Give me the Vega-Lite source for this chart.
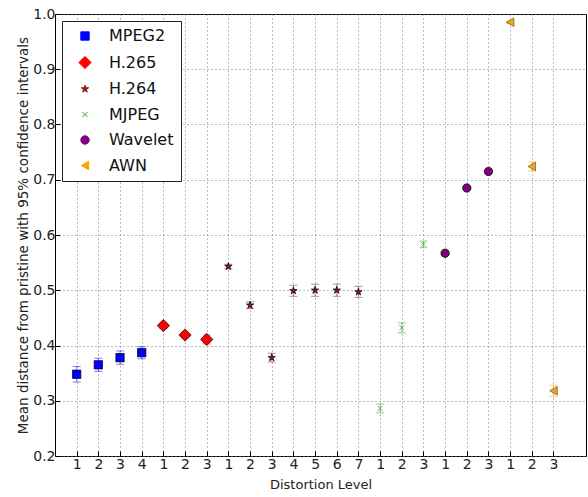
{
  "$schema": "https://vega.github.io/schema/vega-lite/v6.json",
  "width": 531,
  "height": 442,
  "autosize": "none",
  "padding": {"left": 55, "top": 14, "right": 2, "bottom": 41},
  "config": {
    "font": "DejaVu Sans",
    "view": {"stroke": "black", "strokeWidth": 1},
    "axis": {
      "gridColor": "#777",
      "gridDash": [1, 3],
      "gridOpacity": 1,
      "domain": false,
      "tickColor": "black",
      "labelColor": "#222",
      "titleColor": "#222",
      "titleFontWeight": "normal",
      "labelFontSize": 14,
      "titleFontSize": 13
    }
  },
  "data": {
    "values": [
      {"series": "MPEG2", "idx": 1, "y": 0.348, "lo": 0.334, "hi": 0.362},
      {"series": "MPEG2", "idx": 2, "y": 0.365, "lo": 0.353, "hi": 0.377},
      {"series": "MPEG2", "idx": 3, "y": 0.378, "lo": 0.366, "hi": 0.390},
      {"series": "MPEG2", "idx": 4, "y": 0.387, "lo": 0.376, "hi": 0.398},
      {"series": "H.265", "idx": 5, "y": 0.436, "lo": 0.431, "hi": 0.441},
      {"series": "H.265", "idx": 6, "y": 0.419, "lo": 0.414, "hi": 0.424},
      {"series": "H.265", "idx": 7, "y": 0.411, "lo": 0.403, "hi": 0.419},
      {"series": "H.264", "idx": 8, "y": 0.543, "lo": 0.539, "hi": 0.547},
      {"series": "H.264", "idx": 9, "y": 0.473, "lo": 0.467, "hi": 0.479},
      {"series": "H.264", "idx": 10, "y": 0.378, "lo": 0.370, "hi": 0.386},
      {"series": "H.264", "idx": 11, "y": 0.499, "lo": 0.489, "hi": 0.509},
      {"series": "H.264", "idx": 12, "y": 0.500, "lo": 0.489, "hi": 0.511},
      {"series": "H.264", "idx": 13, "y": 0.500, "lo": 0.489, "hi": 0.511},
      {"series": "H.264", "idx": 14, "y": 0.497, "lo": 0.487, "hi": 0.507},
      {"series": "MJPEG", "idx": 15, "y": 0.286, "lo": 0.278, "hi": 0.294},
      {"series": "MJPEG", "idx": 16, "y": 0.432, "lo": 0.423, "hi": 0.441},
      {"series": "MJPEG", "idx": 17, "y": 0.583, "lo": 0.577, "hi": 0.589},
      {"series": "Wavelet", "idx": 18, "y": 0.567, "lo": 0.564, "hi": 0.570},
      {"series": "Wavelet", "idx": 19, "y": 0.685, "lo": 0.683, "hi": 0.687},
      {"series": "Wavelet", "idx": 20, "y": 0.715, "lo": 0.713, "hi": 0.717},
      {"series": "AWN", "idx": 21, "y": 0.985, "lo": 0.983, "hi": 0.987},
      {"series": "AWN", "idx": 22, "y": 0.724, "lo": 0.716, "hi": 0.732},
      {"series": "AWN", "idx": 23, "y": 0.318, "lo": 0.308, "hi": 0.328}
    ]
  },
  "encoding": {
    "x": {
      "field": "idx",
      "type": "quantitative",
      "scale": {"domain": [0, 24.5], "nice": false, "zero": false},
      "axis": {
        "title": "Distortion Level",
        "values": [1,2,3,4,5,6,7,8,9,10,11,12,13,14,15,16,17,18,19,20,21,22,23],
        "labelExpr": "['1','2','3','4','1','2','3','1','2','3','4','5','6','7','1','2','3','1','2','3','1','2','3'][datum.value-1]",
        "tickSize": -5,
        "labelPadding": 6,
        "titlePadding": 7
      }
    },
    "color": {
      "field": "series",
      "type": "nominal",
      "sort": ["MPEG2", "H.265", "H.264", "MJPEG", "Wavelet", "AWN"],
      "scale": {
        "domain": ["MPEG2", "H.265", "H.264", "MJPEG", "Wavelet", "AWN"],
        "range": ["#0000ff", "#ff0000", "#8b1a1a", "#2ca02c", "#800080", "#ffa500"]
      },
      "legend": {
        "title": null,
        "orient": "top-left",
        "offset": 7,
        "fillColor": "white",
        "strokeColor": "#222",
        "padding": 7,
        "labelFontSize": 16,
        "labelColor": "#111",
        "rowPadding": 9.5,
        "labelOffset": 16,
        "symbolOpacity": 1,
        "symbolOffset": 8,
        "symbolStrokeWidth": 1
      }
    }
  },
  "layer": [
    {
      "mark": {"type": "rule", "strokeWidth": 1, "opacity": 0.5},
      "encoding": {
        "y": {"field": "lo", "type": "quantitative"},
        "y2": {"field": "hi"}
      }
    },
    {
      "mark": {"type": "tick", "orient": "horizontal", "size": 8, "thickness": 1, "opacity": 0.5},
      "encoding": {
        "y": {"field": "lo", "type": "quantitative"}
      }
    },
    {
      "mark": {"type": "tick", "orient": "horizontal", "size": 8, "thickness": 1, "opacity": 0.5},
      "encoding": {
        "y": {"field": "hi", "type": "quantitative"}
      }
    },
    {
      "mark": {"type": "point", "filled": true, "opacity": 1, "strokeWidth": 0.7},
      "encoding": {
        "y": {
          "field": "y",
          "type": "quantitative",
          "scale": {"domain": [0.2, 1.0], "nice": false, "zero": false},
          "axis": {
            "title": "Mean distance from pristine with 95% confidence intervals",
            "titleFontSize": 13.5,
            "values": [0.2, 0.3, 0.4, 0.5, 0.6, 0.7, 0.8, 0.9, 1.0],
            "format": ".1f",
            "tickSize": -5,
            "labelPadding": 5,
            "titlePadding": 2
          }
        },
        "stroke": {
          "field": "series",
          "type": "nominal",
          "scale": {
            "domain": ["MPEG2", "H.265", "H.264", "MJPEG", "Wavelet", "AWN"],
            "range": ["#000000", "#000000", "#000000", "#2ca02c", "#000000", "#555555"]
          }
        },
        "shape": {
          "field": "series",
          "type": "nominal",
          "scale": {
            "domain": ["MPEG2", "H.265", "H.264", "MJPEG", "Wavelet", "AWN"],
            "range": [
              "square",
              "diamond",
              "M0,-1L0.2245,-0.309L0.951,-0.309L0.363,0.118L0.588,0.809L0,0.382L-0.588,0.809L-0.363,0.118L-0.951,-0.309L-0.2245,-0.309Z",
              "M-0.6,-0.6L0.6,0.6M-0.6,0.6L0.6,-0.6",
              "circle",
              "triangle-left"
            ]
          }
        },
        "size": {
          "field": "series",
          "type": "nominal",
          "scale": {
            "type": "ordinal",
            "domain": ["MPEG2", "H.265", "H.264", "MJPEG", "Wavelet", "AWN"],
            "range": [70, 150, 60, 75, 70, 75]
          }
        }
      }
    }
  ]
}
